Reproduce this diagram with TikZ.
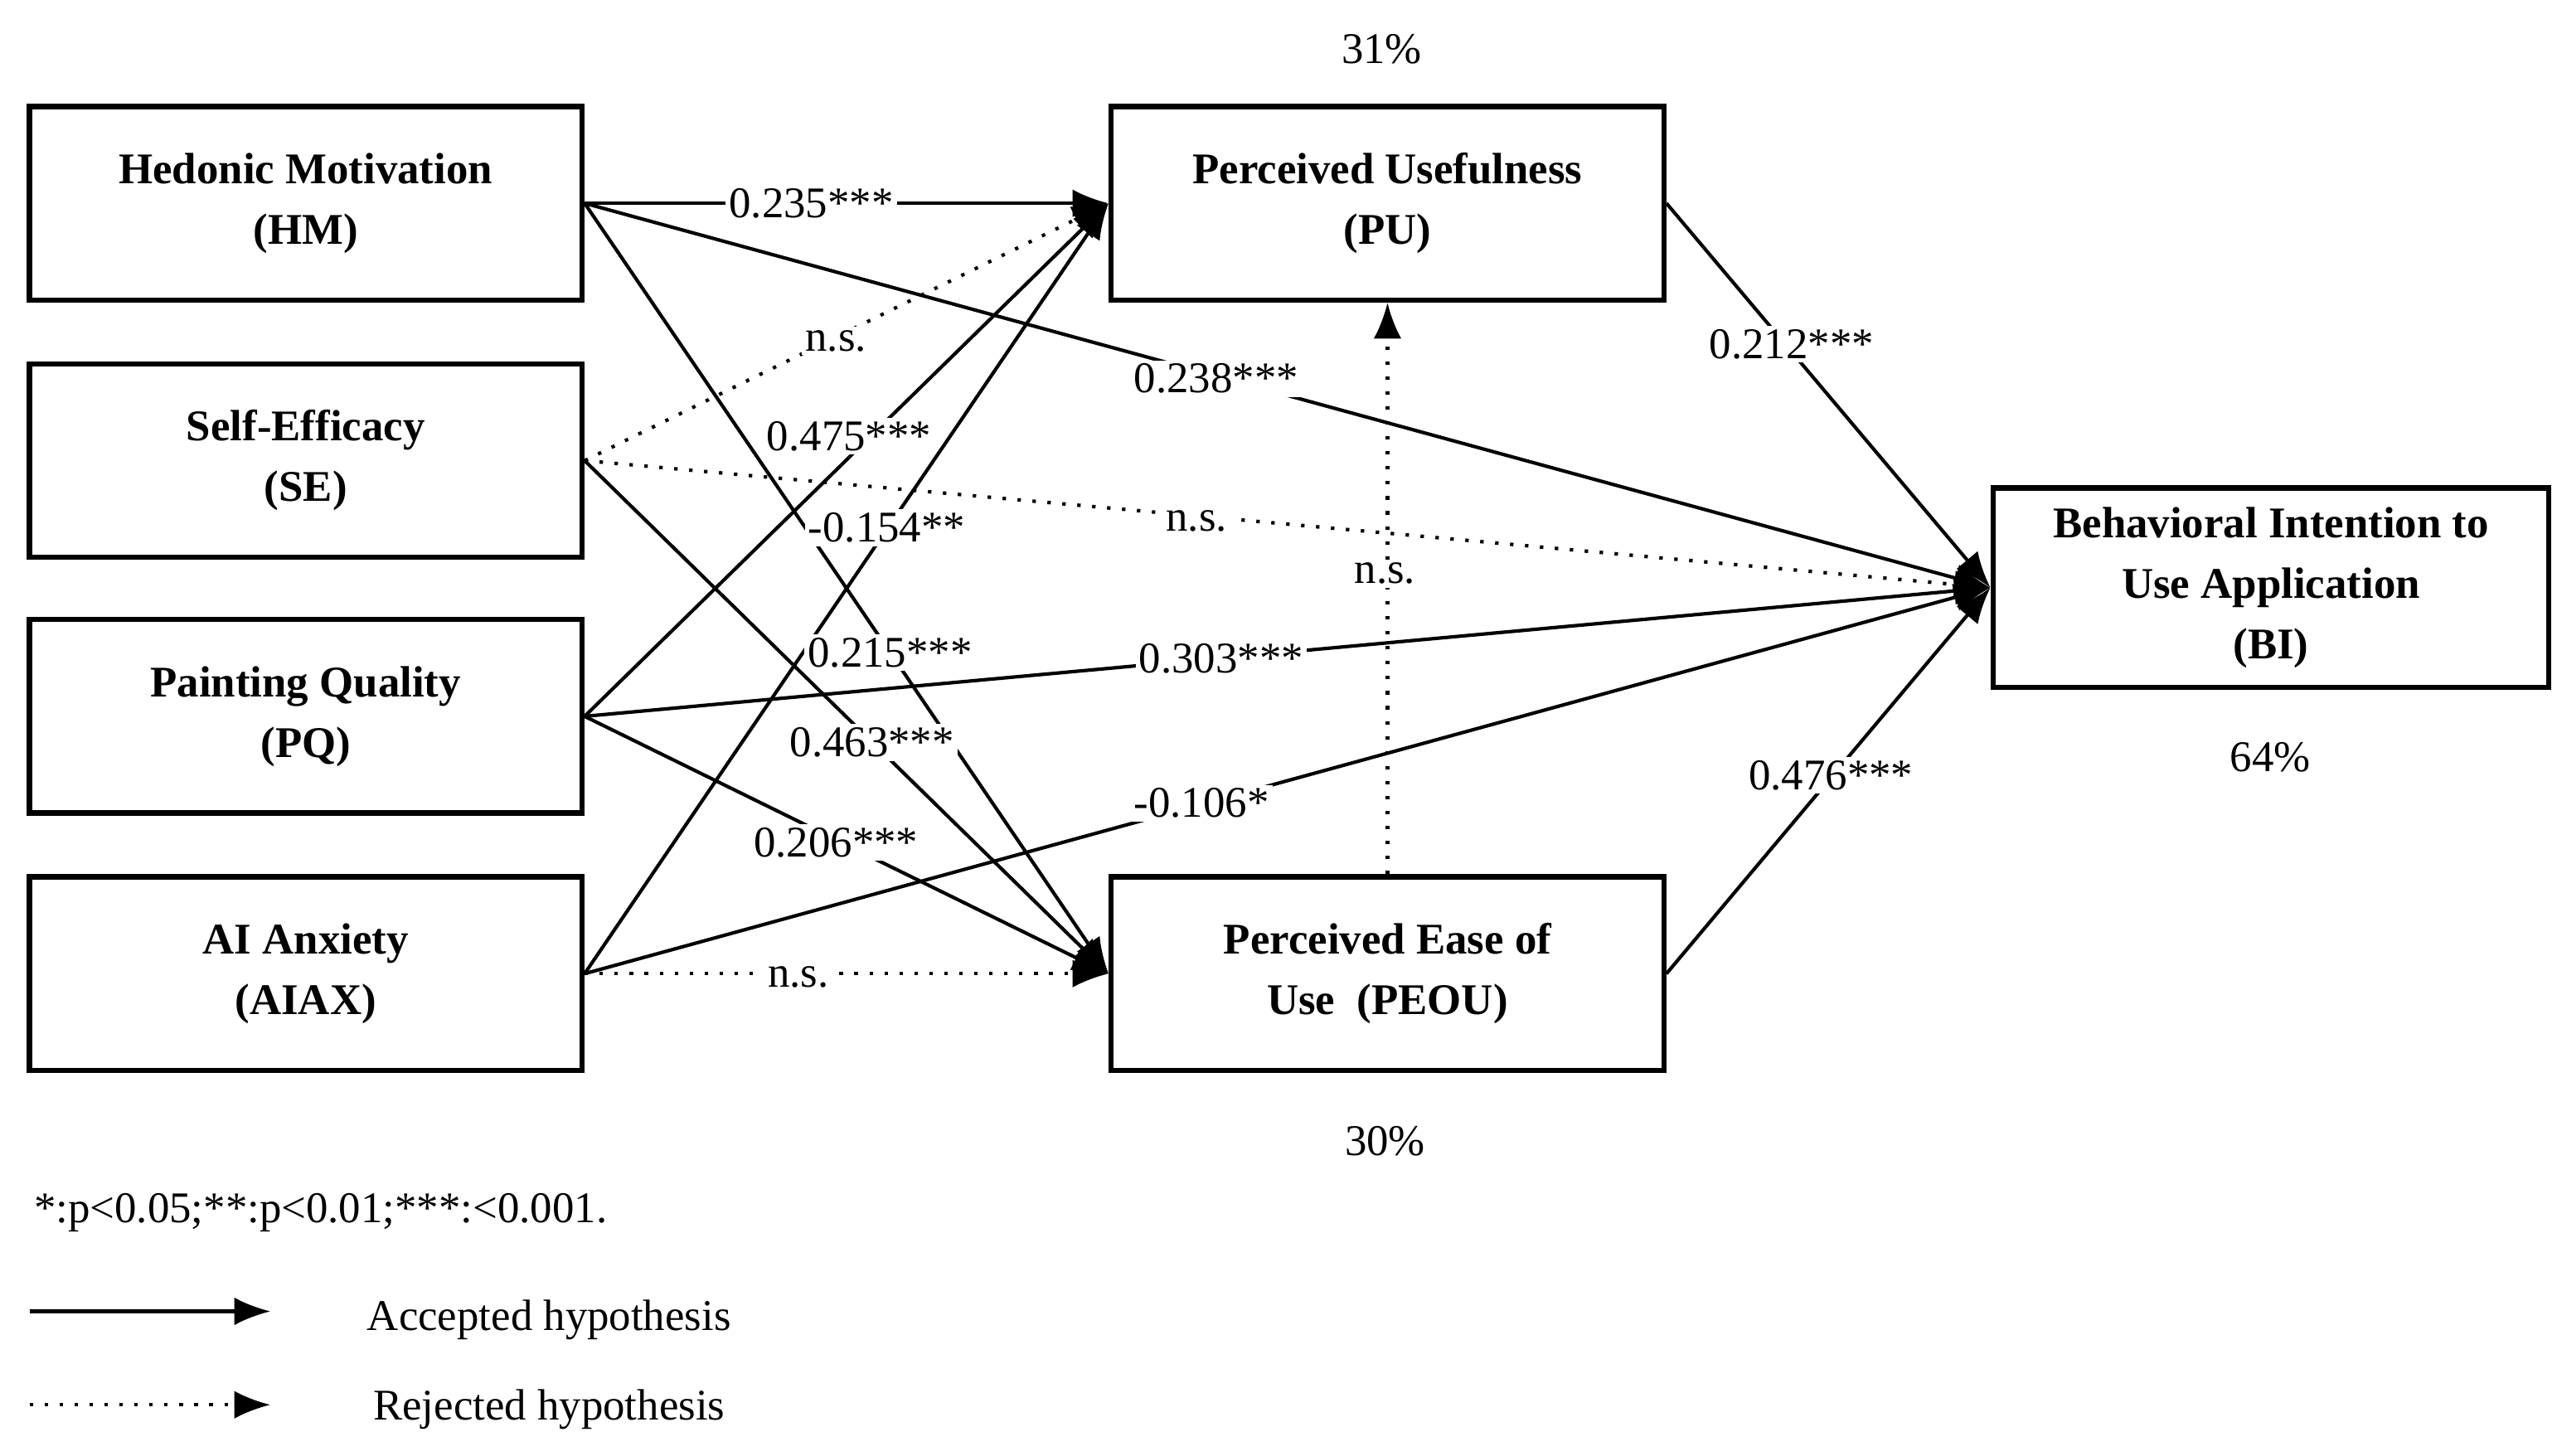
\documentclass[tikz,border=0pt]{standalone}
\usepackage{fontspec}
\setmainfont{Liberation Serif}
\usetikzlibrary{arrows.meta}
\begin{document}
\begin{tikzpicture}[x=0.01cm,y=-0.01cm,
  box/.style={draw,line width=0.9pt,minimum width=3.37cm,minimum height=1.18cm,align=center,font=\fontsize{7.6}{10.5}\selectfont\bfseries},
  acc/.style={line width=0.6pt,-{Latex[length=0.22cm,width=0.17cm]}},
  rej/.style={line width=0.6pt,dotted,-{Latex[length=0.22cm,width=0.17cm]}},
  lab/.style={font=\fontsize{7.6}{9}\selectfont,inner sep=0.6pt},
  wlab/.style={lab,fill=white}]
\useasboundingbox (0,0) rectangle (1560,888);
\node[box] (HM) at (186.5,124) {Hedonic Motivation\\(HM)};
\node[box] (SE) at (186.5,281) {Self-Efficacy\\(SE)};
\node[box] (PQ) at (186.5,437) {Painting Quality\\(PQ)};
\node[box] (AI) at (186.5,594) {AI Anxiety\\(AIAX)};
\node[box] (PU) at (846.5,124) {Perceived Usefulness\\(PU)};
\node[box] (PE) at (846.5,594) {Perceived Ease of\\Use\ \ (PEOU)};
\node[box,minimum width=3.39cm,minimum height=1.19cm] (BI) at (1385.5,358.5) {Behavioral Intention to\\Use Application\\(BI)};
\coordinate (BIw) at (BI.west);
\draw[acc] (HM.east) -- (PU.west);
\draw[acc] (HM.east) -- (BIw);
\draw[acc] (HM.east) -- (PE.west);
\draw[rej] (SE.east) -- (PU.west);
\draw[rej] (SE.east) -- (BIw);
\draw[acc] (SE.east) -- (PE.west);
\draw[acc] (PQ.east) -- (PU.west);
\draw[acc] (PQ.east) -- (BIw);
\draw[acc] (PQ.east) -- (PE.west);
\draw[acc] (AI.east) -- (PU.west);
\draw[acc] (AI.east) -- (BIw);
\draw[rej] (AI.east) -- (PE.west);
\draw[rej] (PE.north) -- (PU.south);
\draw[acc] (PU.east) -- (BIw);
\draw[acc] (PE.east) -- (BIw);
\node[wlab] (l1) at (495,124) {0.235***};
\node[wlab] (l2) at (742,231) {0.238***};
\node[wlab] (l3) at (510,208) {n.s.};
\node[wlab] (l4) at (730,318) {n.s.};
\node[wlab] (l5) at (518,266) {0.475***};
\node[wlab] (l6) at (541,322) {-0.154**};
\node[wlab] (l7) at (543,398) {0.215***};
\node[wlab] (l8) at (532,453) {0.463***};
\node[wlab] (l9) at (510,514) {0.206***};
\node[wlab] (l10) at (745,402) {0.303***};
\node[wlab] (l11) at (733,490) {-0.106*};
\node[wlab] (l12) at (487,596) {n.s.};
\node[wlab] (l13) at (845,350) {n.s.};
\node[wlab] (l14) at (1093,210) {0.212***};
\node[wlab] (l15) at (1117,473) {0.476***};
\node[lab] (p1) at (843,30) {31\%};
\node[lab] (p2) at (1385,462) {64\%};
\node[lab] (p3) at (845,696) {30\%};
\node[lab,anchor=west] (note) at (18,740) {*:p<0.05;**:p<0.01;***:<0.001.};
\coordinate (a1) at (18,800); \coordinate (a2) at (165,800);
\coordinate (r1) at (18,857); \coordinate (r2) at (165,857);
\draw[acc] (a1) -- (a2);
\draw[rej] (r1) -- (r2);
\node[lab] (t1) at (335,805) {Accepted hypothesis};
\node[lab] (t2) at (335,860) {Rejected hypothesis};
\end{tikzpicture}
\end{document}
